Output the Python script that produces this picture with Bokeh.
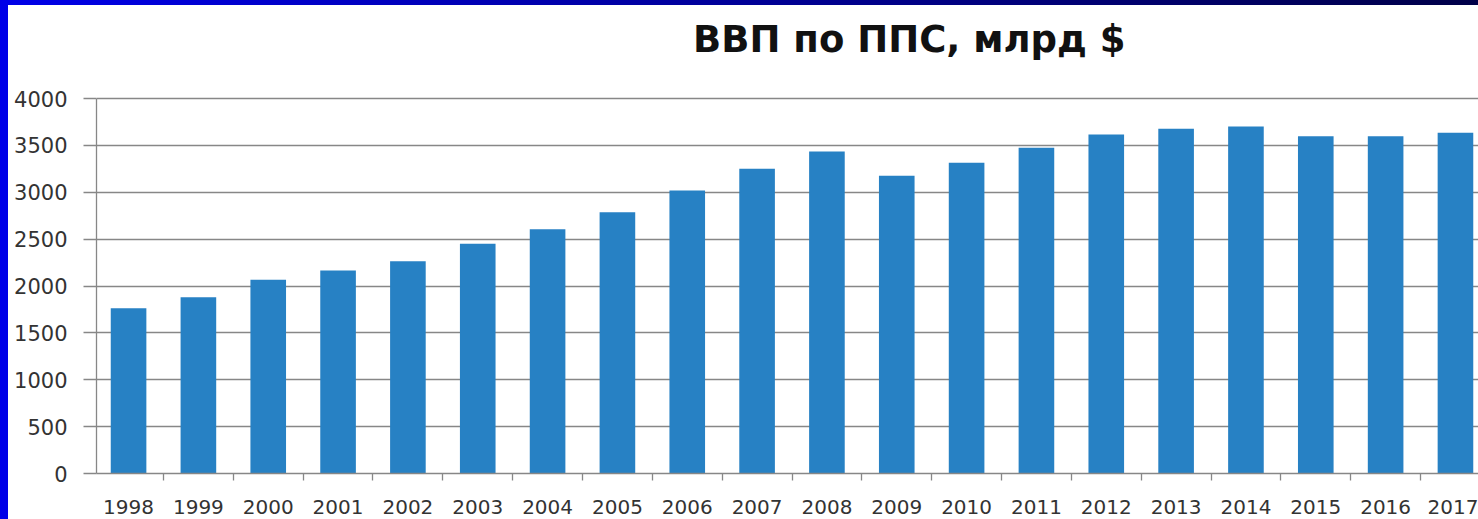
from bokeh.plotting import figure
from bokeh.models import ColumnDataSource, Range1d, FixedTicker, Label
from bokeh.embed import file_html
from bokeh.resources import INLINE

years = ["1998", "1999", "2000", "2001", "2002", "2003", "2004", "2005", "2006", "2007",
         "2008", "2009", "2010", "2011", "2012", "2013", "2014", "2015", "2016", "2017"]
gdp_ppp = [1763, 1881, 2066, 2165, 2265, 2450, 2606, 2788, 3019, 3250,
           3435, 3175, 3314, 3474, 3616, 3677, 3701, 3598, 3598, 3634]
y_ticks = [0, 500, 1000, 1500, 2000, 2500, 3000, 3500, 4000]
title_text = "ВВП по ППС, млрд $"

idx = list(range(len(years)))
src = ColumnDataSource(dict(x=idx, top=gdp_ppp))

p = figure(width=1470, height=514, output_backend="svg", toolbar_location=None,
           x_range=Range1d(-0.459, 19.33), y_range=Range1d(0, 4992),
           min_border_left=88, min_border_right=0, min_border_top=0, min_border_bottom=46)
p.outline_line_color = None
p.background_fill_color = "white"
p.border_fill_color = "white"

p.vbar(x="x", top="top", width=0.51, source=src, fill_color="#2781C4", line_color=None)

grey = "#878787"
p.xgrid.grid_line_color = None
p.ygrid.ticker = FixedTicker(ticks=y_ticks)
p.ygrid.grid_line_color = grey
p.ygrid.grid_line_width = 1.3

ya = p.yaxis[0]
ya.ticker = FixedTicker(ticks=y_ticks)
ya.bounds = (0, 4000)
ya.axis_line_color = grey
ya.axis_line_width = 1.3
ya.major_tick_line_color = grey
ya.major_tick_line_width = 1.3
ya.major_tick_out = 13
ya.major_tick_in = 0
ya.minor_tick_line_color = None
ya.major_label_standoff = 16
ya.major_label_text_font = "DejaVu Sans"
ya.major_label_text_font_size = "21px"
ya.major_label_text_color = "#333333"

xa = p.xaxis[0]
xa.ticker = FixedTicker(ticks=idx, minor_ticks=[i + 0.5 for i in idx])
xa.major_label_overrides = {i: y for i, y in zip(idx, years)}
xa.axis_line_color = grey
xa.axis_line_width = 1.3
xa.major_tick_line_color = None
xa.major_tick_out = 0
xa.major_tick_in = 0
xa.minor_tick_line_color = grey
xa.minor_tick_line_width = 1.3
xa.minor_tick_out = 7
xa.minor_tick_in = 0
xa.major_label_standoff = 19
xa.major_label_text_font = "DejaVu Sans"
xa.major_label_text_font_size = "20px"
xa.major_label_text_color = "#333333"

p.add_layout(Label(x=11.18, y=4630, text=title_text, text_align="center",
                   text_baseline="middle", text_font="DejaVu Sans", text_font_style="bold",
                   text_font_size="37px", text_color="#111111"))

html = file_html(p, INLINE)
html = html.replace("</head>",
                    "<style>html,body{margin:0 !important;padding:0 !important;background:#ffffff;}"
                    "body{border-style:solid;border-width:5px 0 0 8px;"
                    "border-image:linear-gradient(to right,#0000e8,#000048) 1;}</style></head>", 1)
open("out.html", "w").write(html)
